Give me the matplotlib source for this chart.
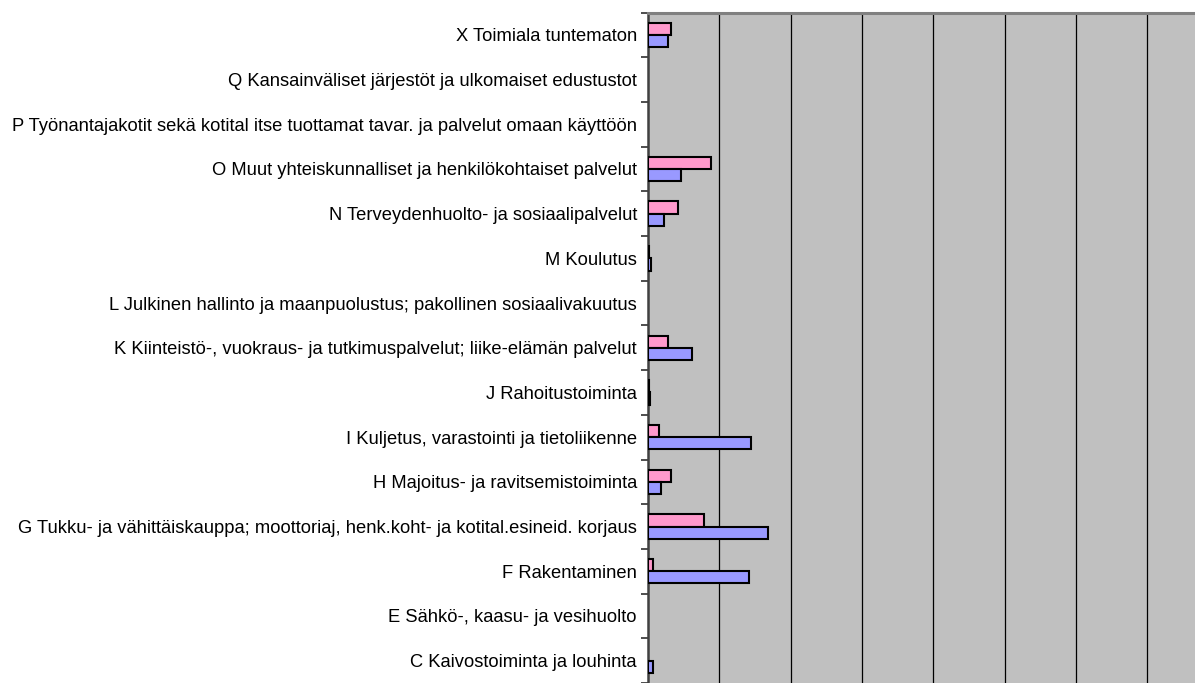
import matplotlib
matplotlib.use("Agg")
import matplotlib.pyplot as plt
import numpy as np

plt.rcParams['font.family'] = ['Liberation Sans', 'DejaVu Sans']

categories = [
    "X Toimiala tuntematon",
    "Q Kansainväliset järjestöt ja ulkomaiset edustustot",
    "P Työnantajakotit sekä kotital itse tuottamat tavar. ja palvelut omaan käyttöön",
    "O Muut yhteiskunnalliset ja henkilökohtaiset palvelut",
    "N Terveydenhuolto- ja sosiaalipalvelut",
    "M Koulutus",
    "L Julkinen hallinto ja maanpuolustus; pakollinen sosiaalivakuutus",
    "K Kiinteistö-, vuokraus- ja tutkimuspalvelut; liike-elämän palvelut",
    "J Rahoitustoiminta",
    "I Kuljetus, varastointi ja tietoliikenne",
    "H Majoitus- ja ravitsemistoiminta",
    "G Tukku- ja vähittäiskauppa; moottoriaj, henk.koht- ja kotital.esineid. korjaus",
    "F Rakentaminen",
    "E Sähkö-, kaasu- ja vesihuolto",
    "C Kaivostoiminta ja louhinta",
]
series_pink = [0.32, 0, 0, 0.88, 0.42, 0.01, 0, 0.285, 0.02, 0.16, 0.32, 0.785, 0.075, 0, 0]
series_blue = [0.28, 0, 0, 0.46, 0.22, 0.04, 0, 0.62, 0.035, 1.445, 0.18, 1.69, 1.42, 0, 0.065]

W, H = 1195, 683
fig = plt.figure(figsize=(W / 100, H / 100), dpi=100)
left_px, top_px = 648, 12.5
ax = fig.add_axes([left_px / W, 0, (W - left_px) / W, (H - top_px) / H])
ax.set_facecolor('#C0C0C0')

n = len(categories)
y = np.arange(n)
h = 0.274
lw_p = [1.5 if v > 0 else 0 for v in series_pink]
lw_b = [1.5 if v > 0 else 0 for v in series_blue]
ax.barh(y - h / 2, series_pink, height=h, color='#FF99CC', edgecolor='black', linewidth=lw_p, zorder=3)
ax.barh(y + h / 2, series_blue, height=h, color='#9999FF', edgecolor='black', linewidth=lw_b, zorder=3)

px_per_unit = 71.3
ax.set_xlim(0, (W - left_px) / px_per_unit)
cat_px = 45.23
ax.set_ylim(-0.5 + (H - top_px) / cat_px, -0.5)

ax.set_xticks(np.arange(1, 8))
ax.tick_params(axis='x', length=0, labelbottom=False)
ax.xaxis.grid(True, color='black', linewidth=0.9, zorder=1)
ax.set_axisbelow(True)

ax.set_yticks(y)
ax.set_yticklabels(categories, fontsize=13.2)
ax.set_yticks(np.arange(n + 1) - 0.5, minor=True)
ax.tick_params(axis='y', which='major', length=0, pad=8)
ax.tick_params(axis='y', which='minor', length=5, width=1.3, color='#404040')

for s in ['right', 'bottom']:
    ax.spines[s].set_visible(False)
ax.spines['left'].set_color('#404040')
ax.spines['left'].set_linewidth(1.8)
ax.spines['top'].set_color('#808080')
ax.spines['top'].set_linewidth(2.2)

fig.savefig('out.png', dpi=100)
